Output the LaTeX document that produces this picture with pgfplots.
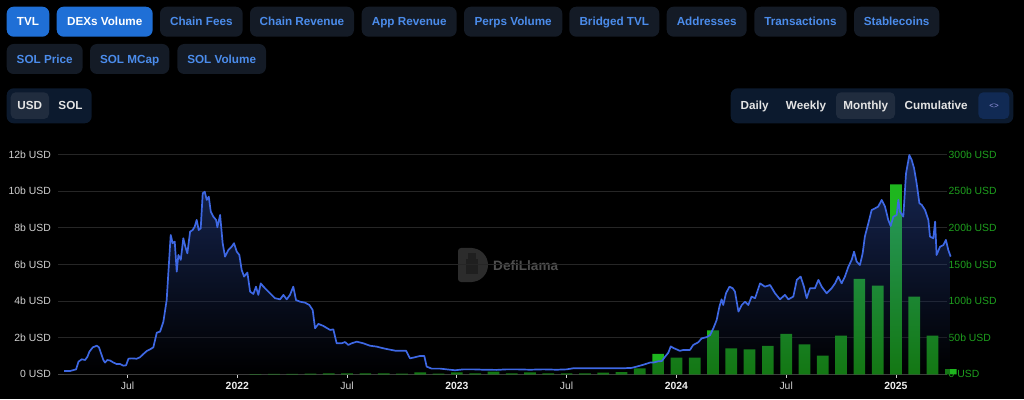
\documentclass[border=0pt]{standalone}
\usepackage{fontspec}
\setmainfont{Liberation Sans}
\usepackage{pgfplots}
\pgfplotsset{compat=1.18}
\usepackage{pgfplotstable}
\definecolor{btnblue}{RGB}{31,111,214}
\definecolor{btndark}{RGB}{20,27,38}
\definecolor{btntext}{RGB}{75,140,235}
\definecolor{togglebg}{RGB}{12,26,46}
\definecolor{togglesel}{RGB}{32,44,62}
\definecolor{codebtn}{RGB}{17,42,84}
\definecolor{lighttxt}{RGB}{228,228,228}
\definecolor{tickc}{RGB}{210,210,210}
\definecolor{yearc}{RGB}{238,238,238}
\definecolor{gridc}{RGB}{38,38,38}
\definecolor{axisc}{RGB}{70,70,70}
\definecolor{greenlab}{RGB}{30,160,30}
\definecolor{barg}{RGB}{30,182,30}
\definecolor{linec}{RGB}{62,104,228}
\definecolor{areatop}{RGB}{70,118,255}
\definecolor{wmlogo}{RGB}{44,44,44}
\definecolor{wmtext}{RGB}{78,78,78}
\newcommand{\bfont}{\fontsize{11.7}{14}\selectfont\bfseries}
\newcommand{\tfont}{\fontsize{10.4}{12}\selectfont}
\newcommand{\btn}[6]{%
  \fill[#4, rounded corners=7pt] (#1,#3-15) rectangle (#2,#3+15);
  \node[text=#5, font=\bfont, anchor=base, inner sep=0pt] at ({(#1+#2)/2},#3-4.2) {#6};}

\pgfplotstableread{
m v
2.53 0.18
2.86 0.18
3.19 0.27
3.32 0.69
3.50 0.82
3.68 0.78
3.81 0.96
3.92 1.24
4.10 1.47
4.32 1.56
4.44 1.47
4.55 1.15
4.68 0.78
4.77 0.64
4.90 0.78
5.05 0.75
5.23 0.64
5.41 0.56
5.59 0.56
5.77 0.47
5.92 0.49
6.05 0.85
6.23 0.87
6.50 0.85
6.68 0.93
6.87 1.11
7.05 1.27
7.23 1.36
7.41 1.47
7.60 2.27
7.78 2.33
7.96 2.87
8.14 4.05
8.23 5.51
8.36 7.60
8.47 7.15
8.58 7.24
8.69 5.60
8.78 6.51
8.91 6.24
9.05 7.42
9.16 6.96
9.27 6.60
9.42 7.78
9.56 7.87
9.67 8.05
9.78 8.42
9.89 7.87
10.00 7.96
10.11 9.87
10.22 9.96
10.33 9.51
10.44 9.69
10.55 8.87
10.69 8.60
10.84 8.42
10.91 8.02
11.06 8.69
11.20 7.15
11.33 6.42
11.51 6.78
11.69 6.96
11.82 7.15
11.97 6.69
12.11 6.51
12.24 5.69
12.37 5.33
12.55 5.55
12.70 4.51
12.88 4.38
13.02 4.78
13.15 4.33
13.28 4.96
13.43 4.78
13.61 4.60
13.88 4.33
14.06 4.15
14.34 4.09
14.52 4.33
14.70 4.09
14.88 4.33
15.06 4.78
15.21 4.05
15.43 3.96
15.70 3.91
15.94 3.78
16.12 3.51
16.25 2.51
16.43 2.75
16.70 2.64
17.07 2.42
17.25 2.45
17.43 1.69
17.70 1.69
17.89 1.76
18.07 1.60
18.25 1.69
18.53 1.78
18.89 1.69
19.25 1.56
19.62 1.51
19.98 1.42
20.26 1.36
20.62 1.29
20.98 1.29
21.22 1.29
21.44 0.87
21.71 0.93
21.99 1.00
22.22 1.00
22.35 0.42
22.62 0.31
23.08 0.31
23.44 0.27
23.90 0.22
24.36 0.27
24.90 0.27
25.45 0.25
26.18 0.24
26.72 0.27
27.27 0.27
28.00 0.25
28.73 0.27
29.46 0.25
30.00 0.27
30.37 0.33
30.91 0.33
31.64 0.33
32.37 0.33
33.10 0.33
33.55 0.35
33.83 0.42
34.19 0.52
34.56 0.64
34.74 0.64
35.01 0.71
35.20 0.72
35.38 0.96
35.56 1.18
35.69 1.52
35.83 1.44
36.01 1.36
36.19 1.28
36.38 1.33
36.74 1.33
36.92 1.60
37.20 1.75
37.38 1.96
37.66 2.03
37.84 2.14
38.02 2.51
38.20 2.96
38.35 3.69
38.47 4.09
38.56 3.78
38.71 4.42
38.90 4.78
39.08 4.69
39.20 4.51
39.39 3.42
39.57 3.78
39.75 3.96
39.93 3.78
40.11 4.24
40.30 4.15
40.57 4.96
40.84 4.78
41.12 4.87
41.39 4.42
41.66 4.09
41.93 4.33
42.12 4.09
42.39 4.24
42.58 5.15
42.79 5.33
42.97 4.78
43.12 4.15
43.30 4.69
43.57 4.69
43.76 5.15
43.94 4.78
44.21 4.42
44.48 4.69
44.67 4.96
44.85 5.33
45.03 4.96
45.21 5.33
45.40 5.87
45.58 6.24
45.71 6.69
45.85 6.15
46.03 5.96
46.18 6.60
46.30 7.51
46.49 8.24
46.67 8.96
46.85 9.05
47.03 9.15
47.22 9.51
47.40 9.15
47.58 8.42
47.71 8.09
47.86 8.60
48.04 8.69
48.13 9.51
48.22 8.87
48.40 8.60
48.55 10.96
48.73 11.96
48.86 11.69
48.99 11.24
49.13 10.42
49.28 9.33
49.41 9.24
49.59 8.96
49.77 8.42
49.86 7.51
50.04 7.42
50.14 8.33
50.22 6.51
50.41 6.96
50.59 7.05
50.73 7.33
50.86 6.78
50.99 6.42
}\tvl

\pgfplotstableread{
m v
13 0.4
14 0.5
15 0.6
16 1.0
17 1.2
18 1.3
19 1.2
20 1.2
21 1.0
22 2.7
23 1.0
24 2.7
25 1.4
26 3.5
27 1.4
28 2.7
29 1.4
30 1.4
31 1.4
32 2.4
33 3.1
34 8.0
35 28.0
36 22.6
37 22.6
38 60.0
39 35.5
40 34.0
41 38.6
42 55.0
43 40.9
44 25.4
45 52.6
46 130.0
47 120.8
48 259.0
49 105.8
50 52.6
51 7.2
}\dexvol

\begin{document}
\begin{tikzpicture}
\path[use as bounding box] (0pt,0pt) rectangle (1024pt,399pt);
\fill[black] (0pt,0pt) rectangle (1024pt,399pt);
\begin{scope}[x=1pt,y=1pt]
% row 1
\btn{6.7}{49.3}{377.3}{btnblue}{white}{TVL}
\btn{56.7}{152.7}{377.3}{btnblue}{white}{DEXs Volume}
\btn{160}{242.7}{377.3}{btndark}{btntext}{Chain Fees}
\btn{250}{354}{377.3}{btndark}{btntext}{Chain Revenue}
\btn{361.7}{456.7}{377.3}{btndark}{btntext}{App Revenue}
\btn{464}{562.3}{377.3}{btndark}{btntext}{Perps Volume}
\btn{569.3}{659.3}{377.3}{btndark}{btntext}{Bridged TVL}
\btn{666.7}{746.7}{377.3}{btndark}{btntext}{Addresses}
\btn{754.3}{846.7}{377.3}{btndark}{btntext}{Transactions}
\btn{854}{939.3}{377.3}{btndark}{btntext}{Stablecoins}
% row 2
\btn{6.7}{82.7}{340}{btndark}{btntext}{SOL Price}
\btn{90}{169.3}{340}{btndark}{btntext}{SOL MCap}
\btn{177.3}{266}{340}{btndark}{btntext}{SOL Volume}
% row 3 left toggle
\fill[togglebg, rounded corners=7pt] (6.7,275.7) rectangle (91.7,310.7);
\fill[togglesel, rounded corners=5pt] (10.7,280) rectangle (49,306.7);
\node[text=lighttxt, font=\bfont, anchor=base, inner sep=0pt] at (29.8,289) {USD};
\node[text=lighttxt, font=\bfont, anchor=base, inner sep=0pt] at (70.5,289) {SOL};
% row 3 right toggle
\fill[togglebg, rounded corners=7pt] (730.7,275.7) rectangle (1013.3,310.7);
\fill[togglesel, rounded corners=5pt] (836,280) rectangle (895,306.7);
\fill[codebtn, rounded corners=5pt] (978.3,280) rectangle (1009.3,306.7);
\node[text=lighttxt, font=\bfont, anchor=base, inner sep=0pt] at (754.7,289) {Daily};
\node[text=lighttxt, font=\bfont, anchor=base, inner sep=0pt] at (806,289) {Weekly};
\node[text=lighttxt, font=\bfont, anchor=base, inner sep=0pt] at (865.8,289) {Monthly};
\node[text=lighttxt, font=\bfont, anchor=base, inner sep=0pt] at (936.2,289) {Cumulative};
\node[text=tickc!70!blue, font=\fontsize{8}{9}\selectfont, anchor=base, inner sep=0pt] at (994,290) {<>};
% watermark
\fill[wmlogo, rounded corners=3pt] (472,117) -- (458,117) -- (458,151) -- (472,151);
\fill[wmlogo] (471,151) arc[start angle=90, end angle=-90, radius=17] -- (471,117) -- cycle;
\fill[wmlogo!70!black] (466,125) rectangle (478,140);
\fill[wmlogo!70!black] (468,140) rectangle (476,146);
\node[text=wmtext, font=\fontsize{13.6}{16}\selectfont\bfseries, anchor=west, inner sep=0pt] at (493,133.3) {DefiLlama};
\end{scope}

% right axis: bars, grid, x axis
\begin{axis}[
  at={(58pt,24.7pt)}, anchor=south west, scale only axis,
  width=889pt, height=220pt,
  xmin=2.2, xmax=50.79, ymin=0, ymax=300, clip=false,
  axis y line*=right, axis x line*=bottom,
  y axis line style={draw=none},
  x axis line style={draw=axisc, line width=0.8pt, -},
  tick align=outside, major tick length=3.5pt,
  xtick={6,12,18,24,30,36,42,48},
  xticklabels={Jul,\textcolor{yearc}{\textbf{2022}},Jul,\textcolor{yearc}{\textbf{2023}},Jul,\textcolor{yearc}{\textbf{2024}},Jul,\textcolor{yearc}{\textbf{2025}}},
  x tick style={draw=tickc, line width=0.8pt},
  xticklabel style={text=tickc, font=\tfont, anchor=base, inner sep=0pt, yshift=-11.5pt},
  ytick={0,50,100,150,200,250,300},
  yticklabels={0 USD,50b USD,100b USD,150b USD,200b USD,250b USD,300b USD},
  y tick style={draw=none},
  yticklabel style={text=greenlab, font=\tfont, anchor=west, inner sep=0pt, xshift=-2pt},
  ymajorgrids, grid style={draw=gridc, line width=0.8pt},
]
\addplot[ybar, bar width=0.64, fill=barg, draw=none] table[x=m,y=v]{\dexvol};
\end{axis}

% left axis: TVL
\begin{axis}[
  at={(58pt,24.7pt)}, anchor=south west, scale only axis,
  width=889pt, height=220pt,
  xmin=2.2, xmax=50.79, ymin=0, ymax=12, clip=false,
  axis y line*=left, axis x line=none, xtick=\empty,
  y axis line style={draw=none},
  major tick length=0pt,
  ytick={0,2,4,6,8,10,12},
  yticklabels={0 USD,2b USD,4b USD,6b USD,8b USD,10b USD,12b USD},
  y tick style={draw=none},
  yticklabel style={text=tickc, font=\tfont, anchor=east, inner sep=0pt, xshift=-7pt},
]
\addplot[draw=none, fill opacity=0.34, top color=areatop, bottom color=black] table[x=m,y=v]{\tvl} \closedcycle;
\addplot[linec, line width=1.7pt, line join=round] table[x=m,y=v]{\tvl};
\end{axis}
\end{tikzpicture}
\end{document}
